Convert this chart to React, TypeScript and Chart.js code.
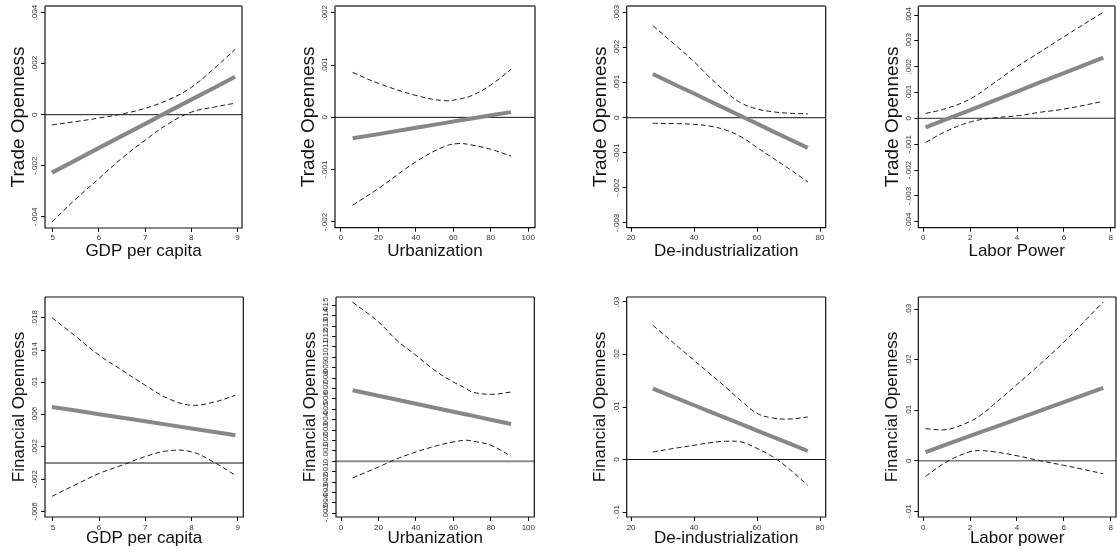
import React, { useEffect, useRef } from "react";
import { Chart, registerables } from "chart.js";
Chart.register(...registerables);

// ---------- Data ----------
// Panel 1: Trade Openness vs GDP per capita
const gdpX = [4.98, 5.5, 6, 6.5, 7, 7.5, 8, 8.5, 8.95];
const tradeGdpFit = [-0.00227, -0.00178, -0.0013, -0.00083, -0.00036, 0.00012, 0.00059, 0.00106, 0.00149];
const tradeGdpUpper = [-0.0004, -0.00027, -0.00013, 0.00003, 0.00025, 0.00058, 0.00107, 0.00182, 0.00256];
const tradeGdpLower = [-0.0042, -0.0033, -0.0025, -0.0017, -0.001, -0.00036, 0.0001, 0.0003, 0.00045];

// Panel 2: Trade Openness vs Urbanization
const urbX = [6.2, 20, 40, 55, 63, 70, 80, 90.8];
const tradeUrbFit = [-0.0004, -0.00032, -0.0002, -0.00011, -0.00006, -0.00002, 0.00004, 0.0001];
const tradeUrbUpper = [0.00086, 0.00065, 0.00042, 0.00032, 0.00035, 0.00042, 0.00062, 0.00092];
const tradeUrbLower = [-0.00168, -0.00136, -0.00085, -0.00056, -0.0005, -0.00053, -0.00061, -0.00074];

// Panel 3: Trade Openness vs De-industrialization
const deindX = [26.9, 35, 40, 45, 50, 55, 60, 65, 70, 76.1];
const tradeDeindFit = [0.00125, 0.0009, 0.00069, 0.00047, 0.00026, 0.00004, -0.00017, -0.00039, -0.0006, -0.00086];
const tradeDeindUpper = [0.00263, 0.002, 0.0016, 0.00115, 0.00074, 0.00042, 0.00025, 0.00017, 0.00013, 0.00011];
const tradeDeindLower = [-0.00016, -0.00017, -0.00019, -0.00024, -0.00035, -0.00055, -0.00085, -0.00115, -0.00145, -0.00183];

// Panel 4: Trade Openness vs Labor Power
const laborX = [0.1, 1, 2, 3, 4, 5, 6, 7.68];
const tradeLaborFit = [-0.00035, -0.00003, 0.00032, 0.00068, 0.00104, 0.0014, 0.00175, 0.00235];
const tradeLaborUpper = [0.00019, 0.00039, 0.00075, 0.00136, 0.002, 0.00258, 0.00316, 0.00411];
const tradeLaborLower = [-0.00093, -0.00049, -0.00014, 0.00002, 0.0001, 0.00024, 0.00036, 0.00066];

// Panel 5: Financial Openness vs GDP per capita
const finGdpFit = [0.00696, 0.00651, 0.00606, 0.00562, 0.00517, 0.00473, 0.00428, 0.00384, 0.00344];
const finGdpUpper = [0.01805, 0.01569, 0.01338, 0.01151, 0.00965, 0.00799, 0.00717, 0.00758, 0.00841];
const finGdpLower = [-0.00414, -0.00267, -0.0013, -0.00027, 0.0008, 0.00152, 0.00139, 0.00005, -0.00153];

// Panel 6: Financial Openness vs Urbanization
const urbX6 = [6.2, 20, 30, 40, 50, 60, 67, 70, 80, 90.8];
const finUrbFit = [0.00683, 0.0063, 0.00592, 0.00554, 0.00515, 0.00477, 0.0045, 0.00439, 0.004, 0.00359];
const finUrbUpper = [0.0153, 0.0134, 0.0116, 0.0102, 0.00875, 0.00762, 0.00698, 0.00666, 0.00644, 0.00666];
const finUrbLower = [-0.0016, -0.00055, 0.00025, 0.00089, 0.00144, 0.00186, 0.00202, 0.00195, 0.00154, 0.00048];

// Panel 7: Financial Openness vs De-industrialization
const finDeindFit = [0.01349, 0.01154, 0.01033, 0.00913, 0.00792, 0.00672, 0.00551, 0.00431, 0.0031, 0.00162];
const finDeindUpper = [0.02556, 0.02143, 0.0189, 0.01634, 0.0138, 0.01114, 0.0088, 0.0079, 0.0077, 0.0081];
const finDeindLower = [0.00143, 0.00225, 0.0027, 0.0032, 0.00347, 0.00333, 0.0021, 0.0005, -0.0017, -0.00491];

// Panel 8: Financial Openness vs Labor power
const laborX8 = [0.1, 1, 2, 2.5, 3, 4, 5, 6, 7.68];
const finLaborFit = [0.00174, 0.00325, 0.00492, 0.00576, 0.00659, 0.00827, 0.00994, 0.01161, 0.01442];
const finLaborUpper = [0.00636, 0.0062, 0.0078, 0.0092, 0.0111, 0.0151, 0.0192, 0.0235, 0.03145];
const finLaborLower = [-0.00307, -0.0002, 0.0018, 0.002, 0.0018, 0.001, 0.0, -0.0009, -0.00255];

// Tick values
const gdpTicks = [5, 6, 7, 8, 9];
const urbTicks = [0, 20, 40, 60, 80, 100];
const deindTicks = [20, 40, 60, 80];
const laborTicks = [0, 2, 4, 6, 8];
const tradeGdpYTicks = [-0.004, -0.002, 0, 0.002, 0.004];
const tradeUrbYTicks = [-0.002, -0.001, 0, 0.001, 0.002];
const tradeDeindYTicks = [-0.003, -0.002, -0.001, 0, 0.001, 0.002, 0.003];
const tradeLaborYTicks = [-0.004, -0.003, -0.002, -0.001, 0, 0.001, 0.002, 0.003, 0.004];
const finGdpYTicks = [-0.006, -0.002, 0.002, 0.006, 0.01, 0.014, 0.018];
const finUrbYTicks = [
  -0.005, -0.004, -0.003, -0.002, -0.001, 0, 0.001, 0.002, 0.003, 0.004, 0.005,
  0.006, 0.007, 0.008, 0.009, 0.01, 0.011, 0.012, 0.013, 0.014, 0.015,
];
const finDeindYTicks = [-0.01, 0, 0.01, 0.02, 0.03];
const finLaborYTicks = [-0.01, 0, 0.01, 0.02, 0.03];

// Axis titles
const xTitles = ["GDP per capita", "Urbanization", "De-industrialization", "Labor Power", "GDP per capita", "Urbanization", "De-industrialization", "Labor power"];
const yTitles = ["Trade Openness", "Trade Openness", "Trade Openness", "Trade Openness", "Financial Openness", "Financial Openness", "Financial Openness", "Financial Openness"];

type PanelData = {
  xs: number[]; fit: number[]; upper: number[]; lower: number[];
  xTicks: number[]; yTicks: number[];
  xMin: number; xMax: number; yMin: number; yMax: number;
};

const panelsData: PanelData[] = [
  { xs: gdpX, fit: tradeGdpFit, upper: tradeGdpUpper, lower: tradeGdpLower, xTicks: gdpTicks, yTicks: tradeGdpYTicks, xMin: 4.83, xMax: 9.1, yMin: -0.00444, yMax: 0.00426 },
  { xs: urbX, fit: tradeUrbFit, upper: tradeUrbUpper, lower: tradeUrbLower, xTicks: urbTicks, yTicks: tradeUrbYTicks, xMin: -3.2, xMax: 103.6, yMin: -0.00211, yMax: 0.00213 },
  { xs: deindX, fit: tradeDeindFit, upper: tradeDeindUpper, lower: tradeDeindLower, xTicks: deindTicks, yTicks: tradeDeindYTicks, xMin: 18.6, xMax: 81.8, yMin: -0.00314, yMax: 0.00319 },
  { xs: laborX, fit: tradeLaborFit, upper: tradeLaborUpper, lower: tradeLaborLower, xTicks: laborTicks, yTicks: tradeLaborYTicks, xMin: -0.21, xMax: 8.18, yMin: -0.00423, yMax: 0.00435 },
  { xs: gdpX, fit: finGdpFit, upper: finGdpUpper, lower: finGdpLower, xTicks: gdpTicks, yTicks: finGdpYTicks, xMin: 4.83, xMax: 9.12, yMin: -0.0067, yMax: 0.0206 },
  { xs: urbX6, fit: finUrbFit, upper: finUrbUpper, lower: finUrbLower, xTicks: urbTicks, yTicks: finUrbYTicks, xMin: -2.67, xMax: 103.2, yMin: -0.00536, yMax: 0.0158 },
  { xs: deindX, fit: finDeindFit, upper: finDeindUpper, lower: finDeindLower, xTicks: deindTicks, yTicks: finDeindYTicks, xMin: 18.6, xMax: 81.8, yMin: -0.01095, yMax: 0.03095 },
  { xs: laborX8, fit: finLaborFit, upper: finLaborUpper, lower: finLaborLower, xTicks: laborTicks, yTicks: finLaborYTicks, xMin: -0.21, xMax: 8.226, yMin: -0.01113, yMax: 0.03244 },
];

// ---------- Layout (positions / styles) ----------
const colX = [0, 280, 560, 840];
const colW = [280, 280, 280, 277];
const rowY = [0, 277];
const rowH = 277;
const plotBoxes = [
  [45, 242, 6, 228], [55, 255, 6, 227.7], [66.7, 265.7, 6, 227.7], [78.3, 275, 6, 227.7],
  [45, 243.3, 20, 240], [56, 254.3, 20, 240], [66.7, 265.7, 20, 240], [78.3, 276, 20, 240],
];
const zeroStyles = [
  ["#111", 1], ["#111", 1], ["#111", 1], ["#555", 1.2],
  ["#111", 1], ["#8c8c8c", 2], ["#111", 1], ["#7a7a7a", 1.5],
];
const FONT = "'Liberation Sans', Arial, Helvetica, sans-serif";

const fmtY = (v: number) => {
  const r = Math.round(v * 1e6) / 1e6;
  if (r === 0) return "0";
  return String(r).replace(/^(-?)0\./, "$1.");
};

function Panel({ idx }: { idx: number }) {
  const ref = useRef<HTMLCanvasElement | null>(null);
  const col = idx % 4;
  const row = Math.floor(idx / 4);
  const W = colW[col];
  const H = rowH;
  useEffect(() => {
    if (!ref.current) return;
    const d = panelsData[idx];
    const [pl, pr, pt, pb] = plotBoxes[idx];
    const [zc, zw] = zeroStyles[idx] as [string, number];
    const yTitleSize = row === 0 ? 19 : 17;
    const xTitleCenter = pb + (row === 0 ? 23.3 : 21.3);
    const toPts = (ys: number[]) => d.xs.map((x, i) => ({ x, y: ys[i] }));
    const decor = {
      id: "decor" + idx,
      beforeDatasetsDraw(chart: any) {
        const { ctx, chartArea: a, scales } = chart;
        const y0 = scales.y.getPixelForValue(0);
        ctx.save();
        ctx.strokeStyle = zc;
        ctx.lineWidth = zw;
        ctx.beginPath();
        ctx.moveTo(a.left, y0);
        ctx.lineTo(a.right, y0);
        ctx.stroke();
        ctx.restore();
      },
      afterDraw(chart: any) {
        const { ctx, chartArea: a, scales } = chart;
        ctx.save();
        ctx.strokeStyle = "#111";
        ctx.lineWidth = 1.2;
        ctx.beginPath();
        ctx.moveTo(a.left, a.top);
        ctx.lineTo(a.left, a.bottom);
        ctx.lineTo(a.right, a.bottom);
        ctx.lineTo(a.right, a.top);
        ctx.stroke();
        ctx.strokeStyle = row === 0 ? "#6e6e6e" : "#111";
        ctx.lineWidth = row === 0 ? 2 : 1.2;
        ctx.beginPath();
        ctx.moveTo(a.left, a.top);
        ctx.lineTo(a.right, a.top);
        ctx.stroke();
        ctx.fillStyle = "#333";
        ctx.font = `8px ${FONT}`;
        ctx.textAlign = "center";
        ctx.textBaseline = "middle";
        for (const t of scales.y.ticks) {
          const py = scales.y.getPixelForValue(t.value);
          ctx.save();
          ctx.translate(a.left - 10, py);
          ctx.rotate(-Math.PI / 2);
          ctx.fillText(fmtY(t.value), 0, 0);
          ctx.restore();
        }
        ctx.restore();
      },
    };
    const chart = new Chart(ref.current, {
      type: "line",
      data: {
        datasets: [
          { data: toPts(d.fit), borderColor: "#878787", borderWidth: 4, pointRadius: 0, fill: false },
          { data: toPts(d.upper), borderColor: "#1a1a1a", borderWidth: 1, borderDash: [5, 3], pointRadius: 0, fill: false, tension: 0.4 },
          { data: toPts(d.lower), borderColor: "#1a1a1a", borderWidth: 1, borderDash: [5, 3], pointRadius: 0, fill: false, tension: 0.4 },
        ],
      },
      options: {
        responsive: false,
        animation: false,
        events: [],
        layout: { padding: { left: 0, top: pt, right: W - pr, bottom: 0 } },
        plugins: { legend: { display: false }, tooltip: { enabled: false } },
        scales: {
          x: {
            type: "linear",
            min: d.xMin,
            max: d.xMax,
            afterBuildTicks: (s: any) => { s.ticks = d.xTicks.map((v) => ({ value: v })); },
            afterFit: (s: any) => { s.height = H - pb; },
            grid: { display: true, drawOnChartArea: false, drawTicks: true, tickLength: 4, tickColor: "#111", lineWidth: 1 },
            border: { display: false },
            ticks: { autoSkip: false, maxRotation: 0, minRotation: 0, padding: row === 0 ? 1 : 2, color: "#333", font: { family: FONT, size: 8 }, callback: (v: any) => String(v) },
            title: { display: true, text: xTitles[idx], color: "#111", font: { family: FONT, size: 17 }, padding: { top: 0, bottom: H - xTitleCenter - 10.2 } },
          },
          y: {
            type: "linear",
            min: d.yMin,
            max: d.yMax,
            afterBuildTicks: (s: any) => { s.ticks = d.yTicks.map((v) => ({ value: v })); },
            afterFit: (s: any) => { s.width = pl; },
            grid: { display: true, drawOnChartArea: false, drawTicks: true, tickLength: 4, tickColor: "#111", lineWidth: 1 },
            border: { display: false },
            ticks: { display: false },
            title: { display: true, text: yTitles[idx], color: "#111", font: { family: FONT, size: yTitleSize }, padding: { top: pl - 26 - yTitleSize * 0.6, bottom: 0 } },
          },
        },
      },
      plugins: [decor],
    } as any);
    return () => chart.destroy();
  }, [idx]);
  return (
    <canvas
      ref={ref}
      width={W}
      height={H}
      style={{ position: "absolute", left: colX[col], top: rowY[row], width: W, height: H, display: "block" }}
    />
  );
}

export default function App() {
  return (
    <div style={{ position: "absolute", left: 0, top: 0, width: 1117, height: 554, background: "#fff", overflow: "hidden" }}>
      {panelsData.map((_, i) => (
        <Panel key={i} idx={i} />
      ))}
    </div>
  );
}
